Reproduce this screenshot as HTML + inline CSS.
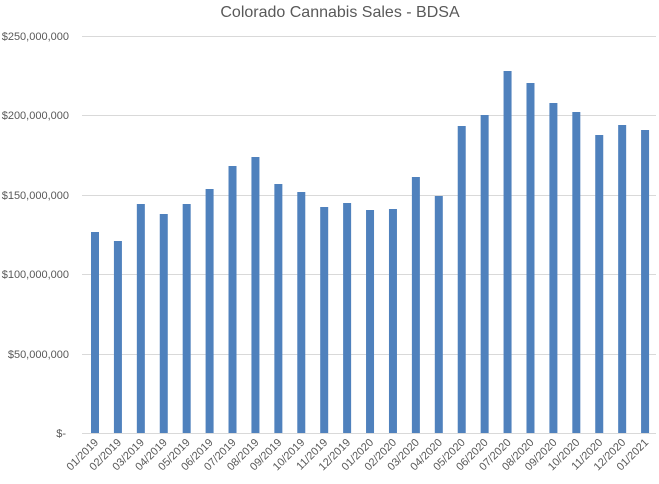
<!DOCTYPE html>
<html><head><style>body{margin:0;background:#fff}svg{display:block}</style></head><body>
<svg width="659" height="484" xmlns="http://www.w3.org/2000/svg" font-family="Liberation Sans, sans-serif">
<rect width="659" height="484" fill="#fff"/>
<text x="340" y="17" font-size="16" fill="#595959" text-anchor="middle">Colorado Cannabis Sales - BDSA</text>
<g stroke="#d9d9d9" stroke-width="1">
<line x1="82" x2="656" y1="36.5" y2="36.5"/><line x1="82" x2="656" y1="115.5" y2="115.5"/>
<line x1="82" x2="656" y1="195.5" y2="195.5"/><line x1="82" x2="656" y1="274.5" y2="274.5"/>
<line x1="82" x2="656" y1="354.5" y2="354.5"/><line x1="82" x2="656" y1="433.5" y2="433.5"/>
</g>
<g font-size="11" fill="#595959" text-anchor="end">
<text x="69" y="40">$250,000,000</text><text x="69" y="119">$200,000,000</text>
<text x="69" y="199">$150,000,000</text><text x="69" y="278">$100,000,000</text>
<text x="69" y="358">$50,000,000</text><text x="66" y="437">$-</text>
</g>
<g fill="#4f81bd" id="bars"></g>
<g id="labels" font-size="11" fill="#595959" text-anchor="end"></g>
<script>
var tops=[232,241,204,214,204,189,166,157,184,192,207,203,210,209,177,196,126,115,71,83,103,112,135,125,130];
var labs=["01/2019","02/2019","03/2019","04/2019","05/2019","06/2019","07/2019","08/2019","09/2019","10/2019","11/2019","12/2019","01/2020","02/2020","03/2020","04/2020","05/2020","06/2020","07/2020","08/2020","09/2020","10/2020","11/2020","12/2020","01/2021"];
var b=document.getElementById('bars'),l=document.getElementById('labels'),ns="http://www.w3.org/2000/svg";
for(var i=0;i<25;i++){var c=95+i*22.92;var r=document.createElementNS(ns,'rect');
r.setAttribute('x',c-4);r.setAttribute('y',tops[i]);r.setAttribute('width',8);r.setAttribute('height',433-tops[i]);b.appendChild(r);
var t=document.createElementNS(ns,'text');t.setAttribute('transform','translate('+(c+4)+',443) rotate(-45)');t.textContent=labs[i];l.appendChild(t);}
</script>
</svg>
</body></html>
